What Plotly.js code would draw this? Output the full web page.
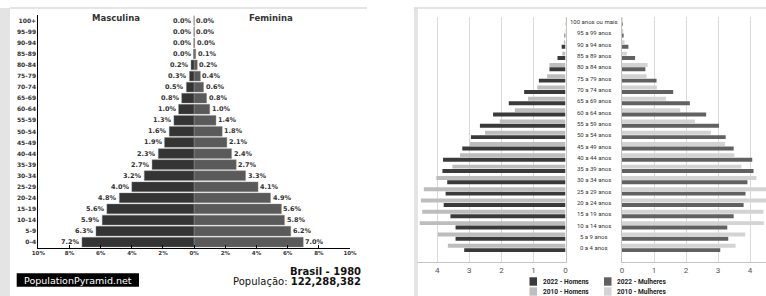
<!DOCTYPE html>
<html><head><meta charset="utf-8">
<script src="https://cdn.plot.ly/plotly-3.0.1.min.js"></script>
<style>html,body{margin:0;padding:0;background:#fff;overflow:hidden}#chart{width:766px;height:296px}</style>
</head><body><div id="chart"></div>
<script>
// ---- Left chart: Brasil 1980 (percent of population) ----
const ageGroups1980 = ['0-4','5-9','10-14','15-19','20-24','25-29','30-34','35-39','40-44','45-49',
  '50-54','55-59','60-64','65-69','70-74','75-79','80-84','85-89','90-94','95-99','100+'];
const male1980   = [7.2,6.3,5.9,5.6,4.8,4.0,3.2,2.7,2.3,1.9,1.6,1.3,1.0,0.8,0.5,0.3,0.2,0.04,0.02,0.01,0.0];
const female1980 = [7.0,6.2,5.8,5.6,4.9,4.1,3.3,2.7,2.4,2.1,1.8,1.4,1.0,0.8,0.6,0.4,0.2,0.1,0.03,0.01,0.0];
const pctTickVals = [-10,-8,-6,-4,-2,0,2,4,6,8,10];
const pctTickText = ['10%','8%','6%','4%','2%','0%','2%','4%','6%','8%','10%'];

// ---- Right chart: 2022 vs 2010 (millions) ----
const ageGroups = ['0 a 4 anos','5 a 9 anos','10 a 14 anos','15 a 19 anos','20 a 24 anos','25 a 29 anos',
  '30 a 34 anos','35 a 39 anos','40 a 44 anos','45 a 49 anos','50 a 54 anos','55 a 59 anos','60 a 64 anos',
  '65 a 69 anos','70 a 74 anos','75 a 79 anos','80 a 84 anos','85 a 89 anos','90 a 94 anos','95 a 99 anos',
  '100 anos ou mais'];
const homens2022   = [3.16,3.43,3.43,3.59,3.80,3.74,3.69,3.84,3.82,3.22,2.95,2.67,2.26,1.77,1.29,0.83,0.50,0.25,0.12,0.03,0.01];
const homens2010   = [3.67,3.98,4.55,4.47,4.51,4.42,4.03,3.53,3.29,2.98,2.51,2.05,1.58,1.17,0.88,0.57,0.50,0.10,0.05,0.02,0.01];
const mulheres2022 = [3.07,3.32,3.29,3.49,3.80,3.86,3.92,4.11,4.07,3.49,3.24,3.03,2.63,2.12,1.60,1.08,0.73,0.41,0.20,0.05,0.02];
const mulheres2010 = [3.55,3.85,4.43,4.42,4.58,4.55,4.20,3.73,3.51,3.22,2.78,2.28,1.82,1.37,1.09,0.77,0.80,0.15,0.08,0.04,0.02];
const countTickVals = [0,1,2,3,4];
const legendLabels = ['2022 - Homens','2010 - Homens','2022 - Mulheres','2010 - Mulheres'];

const W = 766, H = 296;
const px = x => x / W, py = y => 1 - y / H;

const C = {m80:'#343434', f80:'#5a5a5a', h22:'#3a3a3a', h10:'#bdbdbd', m22:'#616161', m10:'#d3d3d3'};

const traces = [
  {type:'bar', orientation:'h', name:'Masculina', y:ageGroups1980.map((_, i) => i), x:male1980.map(v => -v),
   xaxis:'x', yaxis:'y', width:0.88, marker:{color:C.m80, line:{color:'#8a8a8a', width:0.4}}, hoverinfo:'skip'},
  {type:'bar', orientation:'h', name:'Feminina', y:ageGroups1980.map((_, i) => i), x:female1980,
   xaxis:'x', yaxis:'y', width:0.88, marker:{color:C.f80, line:{color:'#8a8a8a', width:0.4}}, hoverinfo:'skip'},
  {type:'bar', orientation:'h', name:legendLabels[0], y:ageGroups.map((_, i) => i), x:homens2022,
   xaxis:'x2', yaxis:'y2', width:0.35, offset:-0.39, marker:{color:C.h22}, hoverinfo:'skip'},
  {type:'bar', orientation:'h', name:legendLabels[1], y:ageGroups.map((_, i) => i), x:homens2010,
   xaxis:'x2', yaxis:'y2', width:0.35, offset:0.0, marker:{color:C.h10}, hoverinfo:'skip'},
  {type:'bar', orientation:'h', name:legendLabels[2], y:ageGroups.map((_, i) => i), x:mulheres2022,
   xaxis:'x3', yaxis:'y3', width:0.35, offset:-0.39, marker:{color:C.m22}, hoverinfo:'skip'},
  {type:'bar', orientation:'h', name:legendLabels[3], y:ageGroups.map((_, i) => i), x:mulheres2010,
   xaxis:'x3', yaxis:'y3', width:0.35, offset:0.0, marker:{color:C.m10}, hoverinfo:'skip'}
];

const DJ = 'DejaVu Sans';
const annotations = [];
ageGroups1980.forEach((g, i) => {
  annotations.push({xref:'x', yref:'y', x:-male1980[i], y:i, text:male1980[i].toFixed(1) + '%',
    xanchor:'right', yanchor:'middle', showarrow:false, xshift:-1, borderpad:0,
    font:{family:DJ, size:6.5, color:'#333', weight:'bold'}});
  annotations.push({xref:'x', yref:'y', x:female1980[i], y:i, text:female1980[i].toFixed(1) + '%',
    xanchor:'left', yanchor:'middle', showarrow:false, xshift:1, borderpad:0,
    font:{family:DJ, size:6.5, color:'#333', weight:'bold'}});
});
annotations.push({xref:'paper', yref:'paper', x:px(116), y:py(17.7), text:'Masculina', showarrow:false,
  xanchor:'center', yanchor:'middle', font:{family:DJ, size:8.5, color:'#333', weight:'bold'}});
annotations.push({xref:'paper', yref:'paper', x:px(271), y:py(17.7), text:'Feminina', showarrow:false,
  xanchor:'center', yanchor:'middle', font:{family:DJ, size:8.5, color:'#333', weight:'bold'}});
annotations.push({xref:'paper', yref:'paper', x:px(362), y:py(271), text:'<b>Brasil - 1980</b>', showarrow:false,
  xanchor:'right', yanchor:'middle', borderpad:0, font:{family:DJ, size:10, color:'#111'}});
annotations.push({xref:'paper', yref:'paper', x:px(362), y:py(281), text:'População: <b>122,288,382</b>', showarrow:false,
  xanchor:'right', yanchor:'middle', borderpad:0, font:{family:DJ, size:10, color:'#111'}});
annotations.push({xref:'paper', yref:'paper', x:px(78), y:py(280), text:'PopulationPyramid.net', showarrow:false,
  xanchor:'center', yanchor:'middle', borderpad:0, font:{family:DJ, size:9.5, color:'#fff'}});

ageGroups.forEach((g, i) => {
  annotations.push({xref:'paper', yref:'y2', x:px(593.5), y:i, text:g, showarrow:false,
    xanchor:'center', yanchor:'middle', borderpad:0, font:{family:'Roboto', size:6, color:'#333'}});
});

// legend (2 x 2)
const legendPos = [[529.5, 281.5, C.h22],[529.5, 291.5, C.h10],[604, 281.5, C.m22],[604, 291.5, C.m10]];
const shapes = [
  {type:'rect', xref:'paper', yref:'paper', x0:px(0), x1:px(10), y0:py(296), y1:py(8), fillcolor:'#e4e4e4', line:{width:0}, layer:'below'},
  {type:'line', xref:'paper', yref:'paper', x0:px(10), x1:px(367), y0:py(8), y1:py(8), line:{color:'#dcdcdc', width:1.5}},
  {type:'rect', xref:'paper', yref:'paper', x0:px(414), x1:px(418), y0:py(296), y1:py(8), fillcolor:'#e4e4e4', line:{width:0}, layer:'below'},
  {type:'line', xref:'paper', yref:'paper', x0:px(414), x1:px(766), y0:py(8), y1:py(8), line:{color:'#dcdcdc', width:1.5}},
  {type:'rect', xref:'paper', yref:'paper', x0:px(16.7), x1:px(139), y0:py(286.7), y1:py(273.3), fillcolor:'#000', line:{width:0}}
];
legendPos.forEach((p, k) => {
  shapes.push({type:'rect', xref:'paper', yref:'paper', x0:px(p[0]), x1:px(p[0] + 7.5), y0:py(p[1] + 4.2), y1:py(p[1] - 4.2),
    fillcolor:p[2], line:{width:0}});
  annotations.push({xref:'paper', yref:'paper', x:px(p[0] + 12), y:py(p[1]), text:legendLabels[k], showarrow:false,
    xanchor:'left', yanchor:'middle', borderpad:0, font:{family:'Roboto', size:6.6, color:'#222', weight:'bold'}});
});

const rightX = {showgrid:true, gridcolor:'#dadada', gridwidth:1, zeroline:false, showline:true, linecolor:'#c4c4c4',
  linewidth:1, ticks:'', tickvals:countTickVals, tickfont:{family:'Roboto', size:8, color:'#555'}, fixedrange:true};
const rightY = {type:'linear', range:[-1.292, 20.442], domain:[py(262.3), py(16.7)], showticklabels:false, showgrid:false,
  zeroline:false, showline:true, linecolor:'#c4c4c4', linewidth:1, ticks:'', fixedrange:true};

const layout = {
  width:W, height:H, margin:{l:0, r:0, t:0, b:0, pad:0}, paper_bgcolor:'#fff', plot_bgcolor:'rgba(0,0,0,0)',
  barmode:'overlay', showlegend:false,
  xaxis:{domain:[px(38.3), px(350)], range:[-10, 10], anchor:'y', tickvals:pctTickVals, ticktext:pctTickText,
    showline:true, linecolor:'#000', linewidth:1, ticks:'inside', ticklen:3, tickcolor:'#000', showgrid:false, zeroline:false,
    tickfont:{family:DJ, size:5.5, color:'#333', weight:'bold'}, fixedrange:true},
  yaxis:{domain:[py(247.7), py(15.1)], range:[-0.5, 20.5], anchor:'x', tickvals:ageGroups1980.map((_, i) => i),
    ticktext:ageGroups1980, showline:true, linecolor:'#000', linewidth:1, ticks:'', showgrid:false, zeroline:false,
    tickfont:{family:DJ, size:6, color:'#333', weight:'bold'}, fixedrange:true},
  xaxis2:Object.assign({}, rightX, {domain:[px(417), px(565.5)], range:[4.633, 0], anchor:'y2'}),
  yaxis2:Object.assign({}, rightY, {anchor:'x2', side:'right'}),
  xaxis3:Object.assign({}, rightX, {domain:[px(622), 1], range:[0, 4.5], anchor:'y3'}),
  yaxis3:Object.assign({}, rightY, {anchor:'x3', side:'left'}),
  annotations:annotations, shapes:shapes
};

Plotly.newPlot('chart', traces, layout, {staticPlot:true, displayModeBar:false});
</script></body></html>
